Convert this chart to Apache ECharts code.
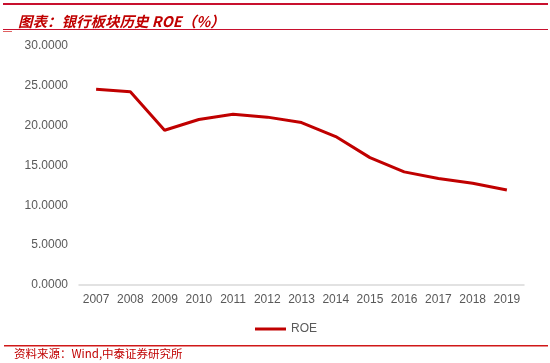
<!DOCTYPE html>
<html>
<head>
<meta charset="utf-8">
<script src="https://cdn.jsdelivr.net/npm/echarts@6/dist/echarts.min.js"></script>
<style>html,body{margin:0;padding:0;background:#fff}#c{width:550px;height:363px}</style>
</head>
<body>
<div id="c"></div>
<script>
const categories = ['2007','2008','2009','2010','2011','2012','2013','2014','2015','2016','2017','2018','2019'];
const roeValues = [24.58, 24.25, 19.43, 20.77, 21.44, 21.07, 20.39, 18.63, 15.99, 14.20, 13.36, 12.78, 11.93];
const seriesName = 'ROE';
const titleText = '图表：银行板块历史 ROE（%）';
const sourceText = '资料来源：Wind,中泰证券研究所';

const red = '#c00000';
const chart = echarts.init(document.getElementById('c'));
chart.setOption({
  animation: false,
  backgroundColor: '#fff',
  title: {
    text: titleText, left: 13, top: 9,
    textStyle: { color: red, fontSize: 14.5, fontWeight: 'bold', fontStyle: 'italic', fontFamily: 'Noto Sans CJK SC' }
  },
  grid: { left: 79, right: 26, top: 46, bottom: 78, containLabel: false },
  legend: {
    top: 318, left: 250,
    itemWidth: 31, itemHeight: 3,
    icon: 'rect',
    textStyle: { color: '#595959', fontSize: 12, fontFamily: 'Liberation Sans' },
    data: [seriesName]
  },
  xAxis: {
    type: 'category', data: categories, boundaryGap: true,
    axisLine: { lineStyle: { color: '#d9d9d9', width: 1.5 } },
    axisTick: { show: false },
    axisLabel: { color: '#595959', fontSize: 12, margin: 9, fontFamily: 'Liberation Sans', interval: 0 }
  },
  yAxis: {
    type: 'value', min: 0, max: 30, interval: 5,
    axisLine: { show: false }, axisTick: { show: false },
    splitLine: { show: false },
    axisLabel: { color: '#595959', fontSize: 12, margin: 11, fontFamily: 'Liberation Sans',
      formatter: v => v.toFixed(4) }
  },
  series: [{
    name: seriesName, type: 'line', data: roeValues,
    symbol: 'none', lineStyle: { color: red, width: 3 }, itemStyle: { color: red }
  }],
  graphic: [
    { type: 'rect', shape: { x: 3, y: 3, width: 545, height: 2 }, style: { fill: '#c8102e' } },
    { type: 'rect', shape: { x: 3, y: 29, width: 545, height: 1 }, style: { fill: '#c8102e' } },
    { type: 'rect', shape: { x: 3, y: 31, width: 9, height: 1 }, style: { fill: '#e06060' } },
    { type: 'rect', shape: { x: 4, y: 345, width: 544, height: 1.5 }, style: { fill: '#d01818' } },
    { type: 'text', left: 14, top: 348, style: { text: sourceText, fill: red, fontSize: 11.5, fontFamily: 'Noto Sans CJK SC' } }
  ]
});
</script>
</body>
</html>
